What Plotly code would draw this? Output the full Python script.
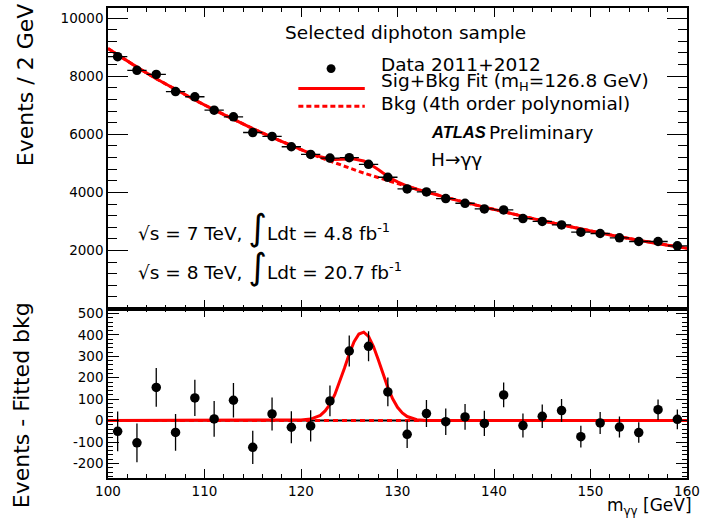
import plotly.graph_objects as go
import numpy as np

# ---------------- data ----------------
mass = [101, 103, 105, 107, 109, 111, 113, 115, 117, 119, 121, 123, 125, 127, 129,
        131, 133, 135, 137, 139, 141, 143, 145, 147, 149, 151, 153, 155, 157, 159]
events = [8670, 8200, 8060, 7470, 7290, 6830, 6600, 6060, 5925, 5570, 5305, 5180, 5195, 4965, 4520,
          4120, 4015, 3785, 3625, 3430, 3395, 3100, 3000, 2880, 2630, 2585, 2435, 2310, 2310, 2160]
event_err = [93, 91, 90, 86, 85, 83, 81, 78, 77, 75, 73, 72, 72, 70, 67,
             64, 63, 62, 60, 59, 58, 56, 55, 54, 51, 51, 49, 48, 48, 46]
residual = [-50, -104, 155, -55, 106, 8, 95, -125, 31, -31, -25, 92, 325, 347, 134,
            -64, 33, -5, 17, -13, 120, -23, 20, 47, -75, -11, -30, -56, 51, 6]
bin_half_width = 1.0

# fitted curves sampled along m_gg
curve_x = [100, 101, 103, 105, 107, 109, 111, 113, 115, 117, 119, 120, 121, 122,
           122.5, 123, 123.5, 124, 124.5, 125, 125.5, 126, 126.5, 127, 127.5, 128,
           128.5, 129, 129.5, 130, 130.5, 131, 132, 133, 135, 137, 139, 141, 143,
           145, 147, 149, 151, 153, 155, 157, 159, 160]
bkg_curve = [8950, 8730, 8310, 7910, 7540, 7180, 6840, 6510, 6195, 5895, 5605, 5465, 5330, 5200,
             5137, 5075, 5014, 4953, 4894, 4835, 4778, 4721, 4665, 4610, 4556, 4504,
             4452, 4400, 4350, 4300, 4250, 4200, 4105, 4010, 3830, 3655, 3490, 3330, 3175,
             3025, 2880, 2740, 2605, 2475, 2350, 2235, 2130, 2080]
sig_curve = [0, 0, 0, 0, 0, 0, 0, 0, 0, 0, 1, 3, 7, 24,
             45, 76, 121, 178, 244, 311, 368, 404, 413, 393, 347, 285,
             217, 154, 102, 62, 36, 19, 4, 1, 0, 0, 0, 0, 0,
             0, 0, 0, 0, 0, 0, 0, 0, 0]

top_y_ticks = [2000, 4000, 6000, 8000, 10000]
bottom_y_ticks = [-200, -100, 0, 100, 200, 300, 400, 500]
bottom_y_labels = ["-200", "-100", "0", "100", "200", "300", "400", "500"]
x_ticks = [100, 110, 120, 130, 140, 150, 160]

sigbkg_curve = [b + s for b, s in zip(bkg_curve, sig_curve)]
bkg_sub = [b - b for b in bkg_curve]

# ---------------- geometry helpers (pixel -> paper) ----------------
W, H = 705, 519
L, R, T, B = 108, 13, 5, 41
PW, PH = W - L - R, H - T - B
def px(x):
    return (x - L) / PW
def py(y):
    return (H - B - y) / PH

split = py(307.5)
RED = "#ff0000"
FONT = "DejaVu Sans"

fig = go.Figure()

# ---- top panel ----
fig.add_trace(go.Scatter(x=curve_x, y=bkg_curve, mode="lines", xaxis="x2", yaxis="y2",
                         line=dict(color=RED, width=3, dash="5px,3px"), hoverinfo="skip"))
fig.add_trace(go.Scatter(x=curve_x, y=sigbkg_curve, mode="lines", xaxis="x2", yaxis="y2",
                         line=dict(color=RED, width=3), hoverinfo="skip"))
fig.add_trace(go.Scatter(x=mass, y=events, mode="markers", xaxis="x2", yaxis="y2",
                         marker=dict(color="black", size=9.5),
                         error_x=dict(type="constant", value=bin_half_width, color="black",
                                      thickness=1.3, width=0),
                         error_y=dict(type="data", array=event_err, color="black",
                                      thickness=1.3, width=0)))

# ---- bottom panel ----
fig.add_trace(go.Scatter(x=curve_x, y=bkg_sub, mode="lines", xaxis="x", yaxis="y",
                         line=dict(color="black", width=2), hoverinfo="skip"))
fig.add_trace(go.Scatter(x=curve_x, y=bkg_sub, mode="lines", xaxis="x", yaxis="y",
                         line=dict(color=RED, width=3, dash="5px,4px"), hoverinfo="skip"))
fig.add_trace(go.Scatter(x=curve_x, y=sig_curve, mode="lines", xaxis="x", yaxis="y",
                         line=dict(color=RED, width=3), hoverinfo="skip"))
fig.add_trace(go.Scatter(x=mass, y=residual, mode="markers", xaxis="x", yaxis="y",
                         marker=dict(color="black", size=9.5),
                         error_y=dict(type="data", array=event_err, color="black",
                                      thickness=1.3, width=0)))

axis_common = dict(showline=True, linecolor="black", linewidth=1.5, mirror="ticks",
                   ticks="inside", tickcolor="black", tickwidth=1.2, showgrid=False,
                   zeroline=False, tickfont=dict(family=FONT, size=13.5, color="black"))

def minor(dt, ln):
    return dict(tickmode="linear", tick0=0, dtick=dt, ticklen=ln, ticks="inside",
                tickcolor="black", tickwidth=1.2)

fig.update_layout(
    width=W, height=H,
    margin=dict(l=L, r=R, t=T, b=B),
    paper_bgcolor="white", plot_bgcolor="white",
    showlegend=False,
    font=dict(family=FONT, color="black"),
    xaxis=dict(domain=[0, 1], range=[100, 160], anchor="y", tickmode="array",
               tickvals=x_ticks, ticklen=9, minor=minor(2, 4), **axis_common),
    yaxis=dict(domain=[0, split], range=[-268, 523], anchor="x", tickmode="array",
               tickvals=bottom_y_ticks, ticktext=bottom_y_labels, ticklen=11,
               minor=minor(20, 5), **axis_common),
    xaxis2=dict(domain=[0, 1], range=[100, 160], anchor="y2", matches="x", tickmode="array",
                tickvals=x_ticks, ticklen=9, showticklabels=False,
                minor=minor(2, 4), **axis_common),
    yaxis2=dict(domain=[split, 1], range=[1, 10345], anchor="x2", tickmode="array",
                tickvals=top_y_ticks, ticktext=[str(v) for v in top_y_ticks], ticklen=20,
                minor=minor(400, 9), **axis_common),
)

ann = []
def text(x, y, s, size, xanchor="left", angle=0, family=FONT):
    ann.append(dict(xref="paper", yref="paper", x=px(x), y=py(y), text=s, showarrow=False,
                    xanchor=xanchor, yanchor="middle", textangle=angle,
                    font=dict(family=family, size=size, color="black")))

# axis titles
text(25, 82, "Events / 2 GeV", 22, xanchor="center", angle=-90)
text(21, 405, "Events - Fitted bkg", 22, xanchor="center", angle=-90)
text(699, 507, "m<sub>γγ</sub> [GeV]", 17, xanchor="right")

# legend / labels
text(285, 30, "Selected diphoton sample", 18.5)
text(381, 62, "Data 2011+2012", 18.5)
text(381, 79, "Sig+Bkg Fit (m<sub>H</sub>=126.8 GeV)", 18.5)
text(381, 101, "Bkg (4th order polynomial)", 18.5)
text(432, 130, "<b><i>ATLAS</i></b>", 16.5, family="Liberation Sans")
text(490, 130, "Preliminary", 18.5)
text(432, 157, "H→γγ", 18.5)
text(136, 226, "√s = 7 TeV, <span style='font-size:36px'>∫</span>Ldt = 4.8 fb<sup>-1</sup>", 18.5)
text(136, 265, "√s = 8 TeV, <span style='font-size:36px'>∫</span>Ldt = 20.7 fb<sup>-1</sup>", 18.5)
fig.update_layout(annotations=ann)

shapes = [
    dict(type="circle", xref="paper", yref="paper", x0=px(333 - 4.5), x1=px(333 + 4.5),
         y0=py(66 + 4.5), y1=py(66 - 4.5), fillcolor="black", line=dict(width=0)),
    dict(type="line", xref="paper", yref="paper", x0=px(300), x1=px(367), y0=py(86), y1=py(86),
         line=dict(color=RED, width=3)),
    dict(type="line", xref="paper", yref="paper", x0=px(300), x1=px(367), y0=py(104), y1=py(104),
         line=dict(color=RED, width=3, dash="5px,3px")),
]
fig.update_layout(shapes=shapes)

fig.write_html("out.html", config={"displayModeBar": False},
               post_script="document.body.style.margin='0';")
